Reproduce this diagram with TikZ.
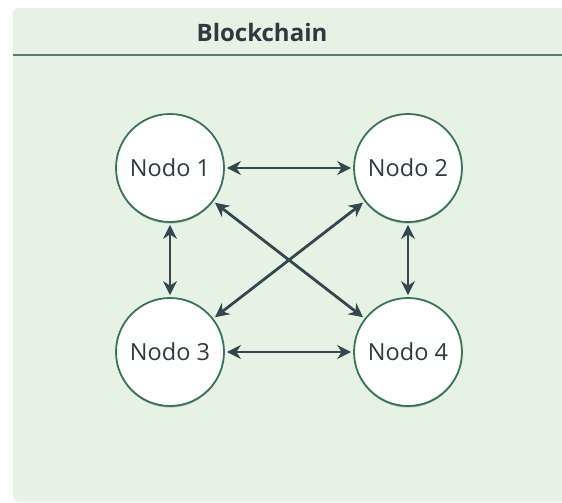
\documentclass[tikz,border=0pt]{standalone}
\usepackage{fontspec}
\setmainfont{Open Sans}
\usetikzlibrary{arrows.meta,shadows}
\definecolor{panel}{HTML}{E6F2E3}
\definecolor{ring}{HTML}{3A7358}
\definecolor{arr}{HTML}{33474F}
\definecolor{hline}{HTML}{5E7D6E}
\definecolor{txt}{HTML}{2E3A40}
\tikzset{
  nd/.style={circle,draw=ring,line width=1.8pt,fill=white,minimum size=108pt,inner sep=0pt,
    font=\fontsize{23.5}{26}\selectfont,text=txt,
    drop shadow={shadow xshift=0pt,shadow yshift=-1.5pt,opacity=0.35,fill=ring!60!black}},
  link/.style={draw=arr,line width=2.8pt,{Stealth[length=14pt,width=14pt]}-{Stealth[length=14pt,width=14pt]},shorten <=2pt,shorten >=2pt}
}
\begin{document}
\begin{tikzpicture}[x=1pt,y=-1pt]
\useasboundingbox (0,0) rectangle (562,503);
\fill[white] (0,0) rectangle (562,503);
\fill[panel,rounded corners=6pt] (13,8) rectangle (575,502);
\draw[hline,line width=1.2pt] (13,55) -- (562,55);
\node[font=\fontsize{24}{28}\selectfont\bfseries,text=txt] (title) at (262,33) {Blockchain};
\node[nd] (n1) at (170,168) {Nodo 1};
\node[nd] (n2) at (408,168) {Nodo 2};
\node[nd] (n3) at (170,352) {Nodo 3};
\node[nd] (n4) at (408,352) {Nodo 4};
\draw[link] (n1) -- (n2);
\draw[link] (n3) -- (n4);
\draw[link] (n1) -- (n3);
\draw[link] (n2) -- (n4);
\draw[link] (n1) -- (n4);
\draw[link] (n2) -- (n3);
\end{tikzpicture}
\end{document}
